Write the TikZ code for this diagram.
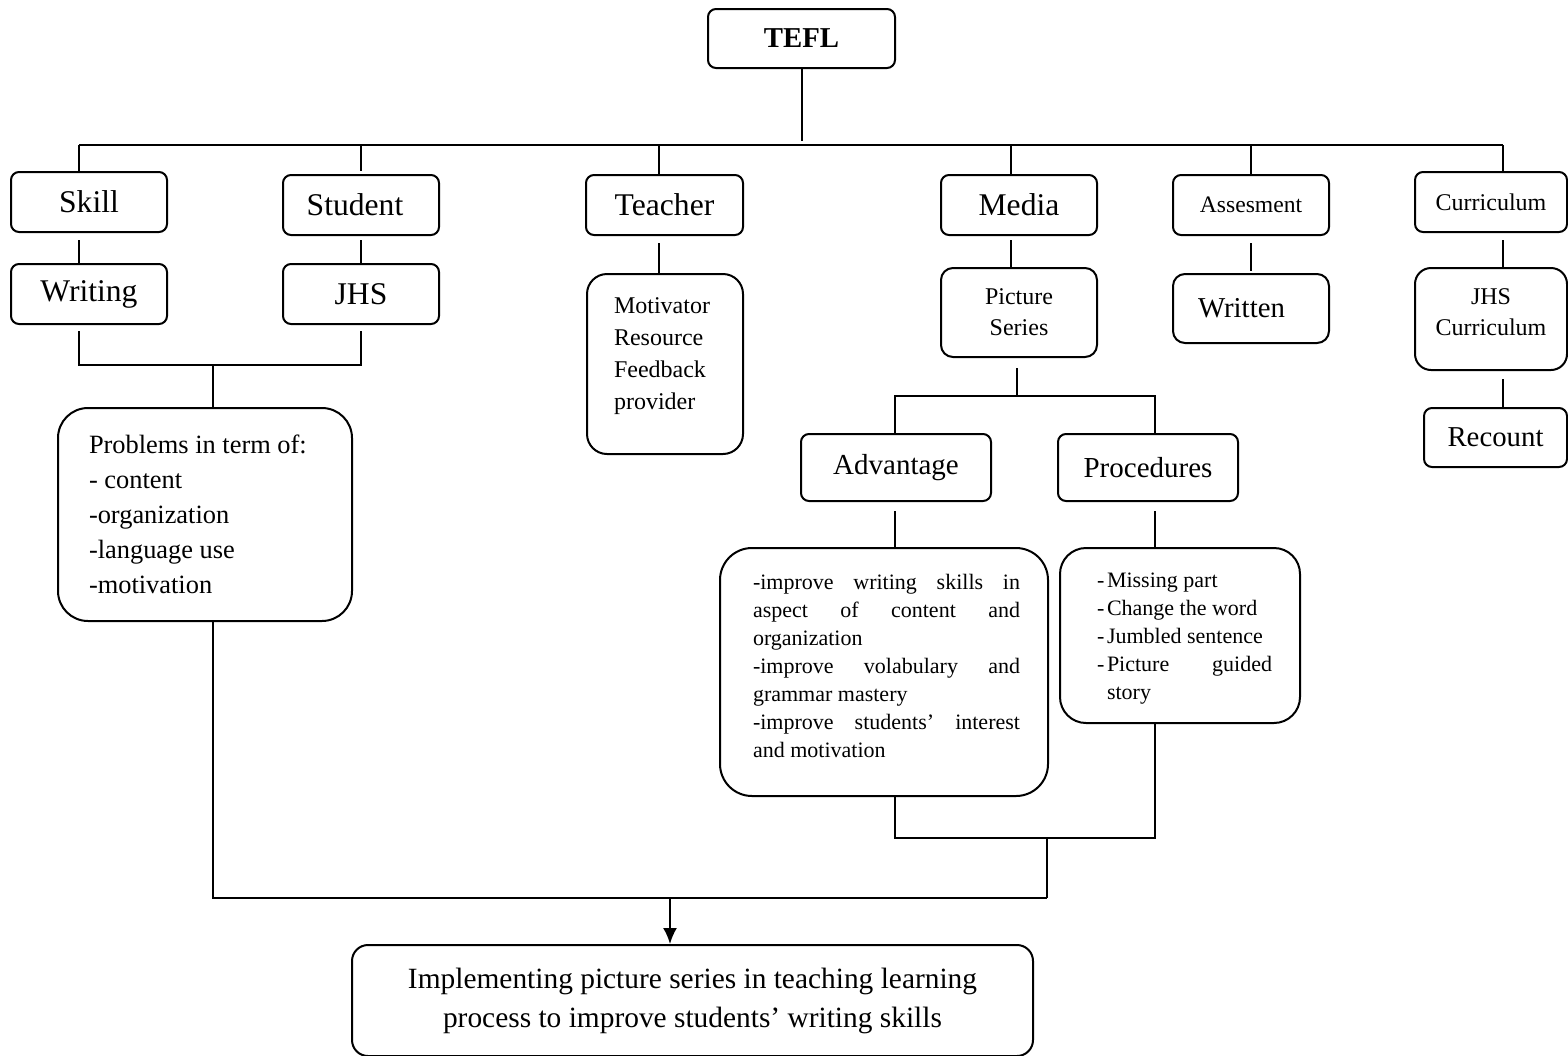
\documentclass[tikz,border=0pt]{standalone}
\usepackage{fontspec}
\setmainfont{Liberation Serif}
\usetikzlibrary{arrows.meta}
\newcommand\myfs[2]{\fontsize{#1pt}{#2pt}\selectfont}
\begin{document}
\begin{tikzpicture}[x=0.5pt,y=-0.5pt, line width=1pt,
  box/.style={draw, rounded corners=4pt, inner sep=0pt, align=center},
  bigf/.style={font=\myfs{15.8}{19}},
  midf/.style={font=\myfs{14.4}{17}},
  smlf/.style={font=\myfs{12}{15.5}},
  txt/.style={anchor=base west, inner sep=0pt},
  arr/.style={-{Latex[length=8pt,width=7pt]}}
]
\useasboundingbox (0,0) rectangle (1568,1055);

% ---- boxes ----
\node[box, minimum width=93.5pt, minimum height=29.5pt, font=\myfs{14.4}{17}\bfseries] (tefl) at (801.5,38.5) {TEFL};

\node[box, bigf, minimum width=78pt, minimum height=30pt] (skill) at (89,202) {Skill};
\node[box, bigf, minimum width=78pt, minimum height=30pt] (student) at (361,205) {Student\hspace*{6pt}};
\node[box, bigf, minimum width=78pt, minimum height=30pt] (writing) at (89,294) {Writing};
\node[box, bigf, minimum width=78pt, minimum height=30pt] (jhs) at (361,294) {JHS};

\node[box, bigf, minimum width=78.5pt, minimum height=30pt] (teacher) at (664.5,205) {Teacher};
\node[box, rounded corners=10pt, minimum width=78pt, minimum height=90pt] (teachbox) at (665,364) {};
\node[txt] (teachtxt) at (613,313) {\parbox[t]{70pt}{\myfs{12}{16}Motivator\\Resource\\Feedback\\provider}};

\node[box, bigf, minimum width=78pt, minimum height=30pt] (media) at (1019,205) {Media};
\node[box, smlf, rounded corners=6pt, minimum width=78pt, minimum height=44.5pt] (ps) at (1019,312.5) {Picture\\Series};

\node[box, font=\myfs{11.8}{14}, minimum width=78pt, minimum height=30pt] (assess) at (1251,205) {Assesment};
\node[box, midf, rounded corners=6pt, minimum width=78pt, minimum height=34.5pt] (written) at (1251,308.5) {Written\hspace*{9.5pt}};

\node[box, smlf, minimum width=76pt, minimum height=30pt] (curr) at (1491,202) {Curriculum};
\node[box, rounded corners=8pt, minimum width=76pt, minimum height=51pt] (jhscurr) at (1491,319) {};
\node[smlf, align=center, inner sep=0pt] (jhscurrtxt) at (1491,312.5) {JHS\\Curriculum};
\node[box, midf, minimum width=71.5pt, minimum height=29.5pt] (recount) at (1495.5,437.5) {Recount};

\node[box, rounded corners=15pt, minimum width=147pt, minimum height=106.5pt] (problems) at (205,514.5) {};
\node[txt] (probtxt) at (88,453) {\parbox[t]{125pt}{\myfs{13.2}{17.5}Problems in term of:\\- content\\-organization\\-language use\\-motivation}};

\node[box, font=\myfs{14.5}{17}, minimum width=95pt, minimum height=33.5pt] (adv) at (896,467.5) {Advantage};
\node[box, font=\myfs{14.5}{17}, minimum width=90pt, minimum height=33.5pt] (proc) at (1148,467.5) {Procedures};

\node[box, rounded corners=16pt, minimum width=164pt, minimum height=124pt] (advbox) at (884,672) {};
\node[txt] (advtxt) at (752,589) {\parbox[t]{133.5pt}{\myfs{11}{14}%
\makebox[\linewidth][s]{-improve writing skills in}\\
\makebox[\linewidth][s]{aspect of content and}\\
organization\\
\makebox[\linewidth][s]{-improve volabulary and}\\
grammar mastery\\
\makebox[\linewidth][s]{-improve students’ interest}\\
and motivation}};

\node[box, rounded corners=13pt, minimum width=120pt, minimum height=87.5pt] (procbox) at (1180,635.5) {};
\node[txt] (proctxt) at (1096,587) {\parbox[t]{88pt}{\myfs{11}{14}%
\makebox[5pt][l]{-}Missing part\\
\makebox[5pt][l]{-}Change the word\\
\makebox[5pt][l]{-}Jumbled sentence\\
\makebox[5pt][l]{-}\makebox[82.5pt][s]{Picture guided}\\
\hspace*{5pt}story}};

\node[box, rounded corners=8pt, font=\myfs{14.7}{19.5}, minimum width=340.5pt, minimum height=55.5pt] (final) at (692.5,1000.5) {Implementing picture series in teaching learning\\process to improve students’ writing skills};

% ---- junction coordinates ----
\coordinate (busL) at (79,145);
\coordinate (busR) at (1503,145);
\coordinate (wj) at (79,365);
\coordinate (psj) at (1017,396);
\coordinate (m2) at (1047,838);
\coordinate (m3) at (1047,898);
\coordinate (arrx) at (670,898);

% ---- connectors ----
\draw (tefl.south) -- ++(0,72);
\draw (busL) -- (busR);
\draw (busL) -- (busL |- skill.north);
\draw (student.north |- busL) -- ([yshift=1.5pt]student.north);
\draw ([xshift=-2.75pt]teacher.north |- busL) -- ([xshift=-2.75pt]teacher.north);
\draw ([xshift=-4pt]media.north |- busL) -- ([xshift=-4pt]media.north);
\draw (assess.north |- busL) -- (assess.north);
\draw (busR) -- (busR |- curr.north);

\draw ([xshift=-5pt,yshift=-3.5pt]skill.south) -- ([xshift=-5pt]writing.north);
\draw ([yshift=-2pt]student.south) -- (jhs.north);
\draw ([xshift=-5pt,yshift=-3pt]writing.south) -- (wj) -| ([yshift=-3pt]jhs.south);
\draw ([xshift=4pt]problems.north) -- ([xshift=4pt]problems.north |- wj);

\draw ([xshift=-2.75pt,yshift=-3.5pt]teacher.south) -- ([xshift=-3pt]teachbox.north);
\draw ([xshift=-4pt,yshift=-2pt]media.south) -- ([xshift=-4pt]ps.north);
\draw ([xshift=-1pt,yshift=-5pt]ps.south) -- (psj);
\draw ([xshift=-0.5pt]adv.north) |- (psj) -| ([xshift=3.5pt]proc.north);
\draw ([xshift=-0.5pt,yshift=-4.5pt]adv.south) -- ([xshift=-0.5pt]adv.south |- advbox.north);
\draw ([xshift=3.5pt,yshift=-4.5pt]proc.south) -- ([xshift=3.5pt]proc.south |- procbox.north);
\draw ([xshift=-0.5pt]adv.south |- advbox.south) |- (m2) -| ([xshift=3.5pt]proc.south |- procbox.south);
\draw (m2) -- (m3);
\draw ([xshift=4pt]problems.south) |- (m3);
\draw[arr] (arrx) -- (arrx |- final.north);

\draw ([yshift=-3.5pt]assess.south) -- ([yshift=1pt]written.north);
\draw ([xshift=6pt,yshift=-3.5pt]curr.south) -- ([xshift=6pt]jhscurr.north);
\draw ([xshift=6pt,yshift=-4pt]jhscurr.south) -- ([xshift=6pt]jhscurr.south |- recount.north);
\end{tikzpicture}
\end{document}
